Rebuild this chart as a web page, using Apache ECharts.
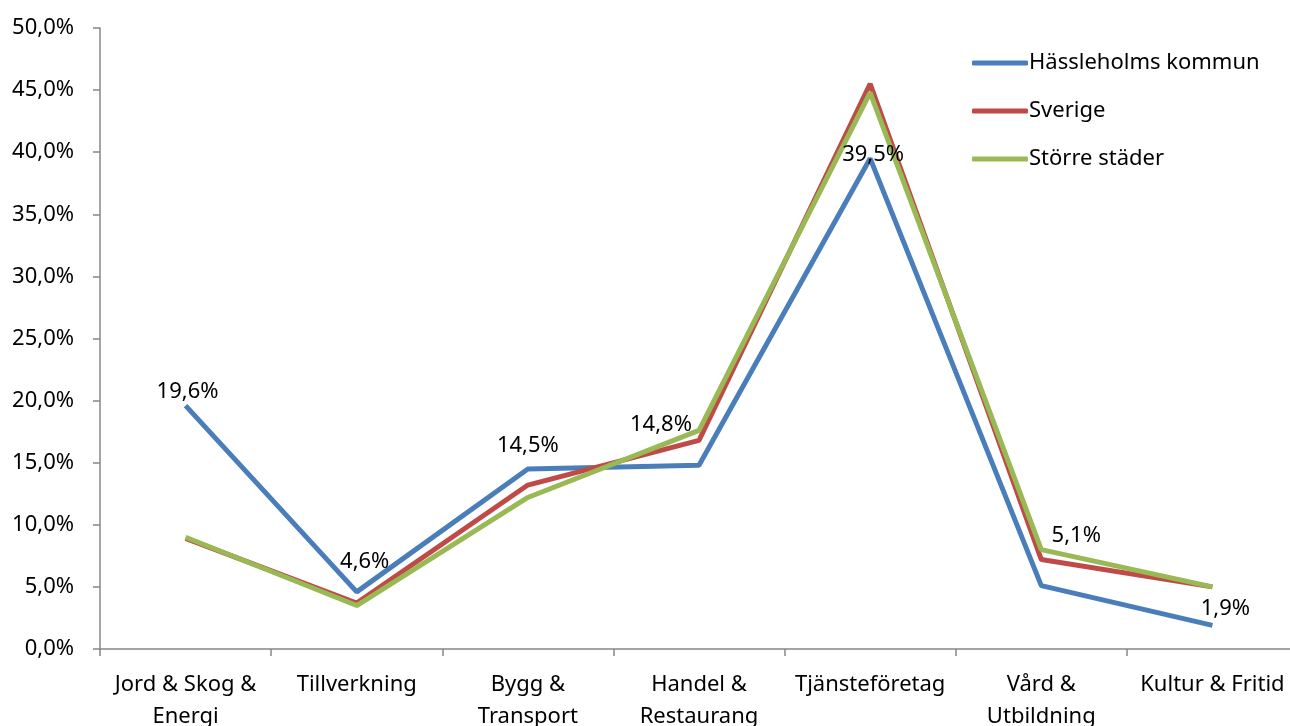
<!DOCTYPE html>
<html>
<head>
<meta charset="utf-8">
<script src="https://cdn.jsdelivr.net/npm/echarts@6/dist/echarts.min.js"></script>
<style>
html,body{margin:0;padding:0;background:#fff;}
#chart{width:1290px;height:726px;}
</style>
</head>
<body>
<div id="chart"></div>
<script>
const categories = ['Jord & Skog &\nEnergi', 'Tillverkning', 'Bygg &\nTransport', 'Handel &\nRestaurang', 'Tjänsteföretag', 'Vård &\nUtbildning', 'Kultur & Fritid'];
const seriesNames = ['Hässleholms kommun', 'Sverige', 'Större städer'];
const hassleholm = [19.6, 4.6, 14.5, 14.8, 39.5, 5.1, 1.9];
const sverige = [8.9, 3.7, 13.2, 16.8, 45.5, 7.2, 5.0];
const storreStader = [9.0, 3.5, 12.2, 17.6, 44.8, 8.0, 5.0];
const yTicks = [0, 5, 10, 15, 20, 25, 30, 35, 40, 45, 50];

// label offsets for the data labels of Hässleholms kommun (pixels)
const labelOffsets = [[2, 3], [8, -13], [0, -6], [-38, -23], [3, 13], [35, -33], [13, 0]];

const fmt = v => v.toFixed(1).replace('.', ',') + '%';
const font = 'Noto Sans';

const chart = echarts.init(document.getElementById('chart'));
chart.setOption({
  animation: false,
  textStyle: { fontFamily: font },
  grid: { left: 100, width: 1198, top: 28, bottom: 77, containLabel: false, outerBoundsMode: 'none' },
  legend: {
    orient: 'vertical',
    left: 967,
    top: 47,
    itemWidth: 56,
    itemHeight: 5,
    itemGap: 26,
    icon: 'roundRect',
    textStyle: { fontFamily: font, fontSize: 22, color: '#000', padding: [0, 0, 0, -4] },
    data: seriesNames
  },
  xAxis: {
    type: 'category',
    data: categories,
    boundaryGap: true,
    axisLine: { lineStyle: { color: '#868686', width: 1.5 } },
    axisTick: { show: true, interval: 0, length: 7, lineStyle: { color: '#868686', width: 1.5 } },
    axisLabel: { interval: 0, margin: 20, fontSize: 22, lineHeight: 32, color: '#000', fontFamily: font }
  },
  yAxis: {
    type: 'value',
    min: yTicks[0],
    max: yTicks[yTicks.length - 1],
    interval: yTicks[1] - yTicks[0],
    splitLine: { show: false },
    axisLine: { show: true, lineStyle: { color: '#868686', width: 1.5 } },
    axisTick: { show: true, length: 7, lineStyle: { color: '#868686', width: 1.5 } },
    axisLabel: { margin: 26, fontSize: 22, color: '#000', fontFamily: font, formatter: v => fmt(v) }
  },
  series: [
    {
      name: seriesNames[0], type: 'line', data: hassleholm.map((v, i) => ({
        value: v,
        label: { offset: labelOffsets[i] }
      })),
      showSymbol: true, symbol: 'circle', symbolSize: 0,
      lineStyle: { color: '#4a7ebb', width: 5 }, itemStyle: { color: '#4a7ebb' },
      label: { show: true, position: 'top', distance: 6, fontSize: 22, color: '#000', fontFamily: font, formatter: p => fmt(p.value) }
    },
    {
      name: seriesNames[1], type: 'line', data: sverige,
      showSymbol: false, symbol: 'none',
      lineStyle: { color: '#be4b48', width: 5 }, itemStyle: { color: '#be4b48' }
    },
    {
      name: seriesNames[2], type: 'line', data: storreStader,
      showSymbol: false, symbol: 'none',
      lineStyle: { color: '#98b954', width: 5 }, itemStyle: { color: '#98b954' }
    }
  ]
});
</script>
</body>
</html>
